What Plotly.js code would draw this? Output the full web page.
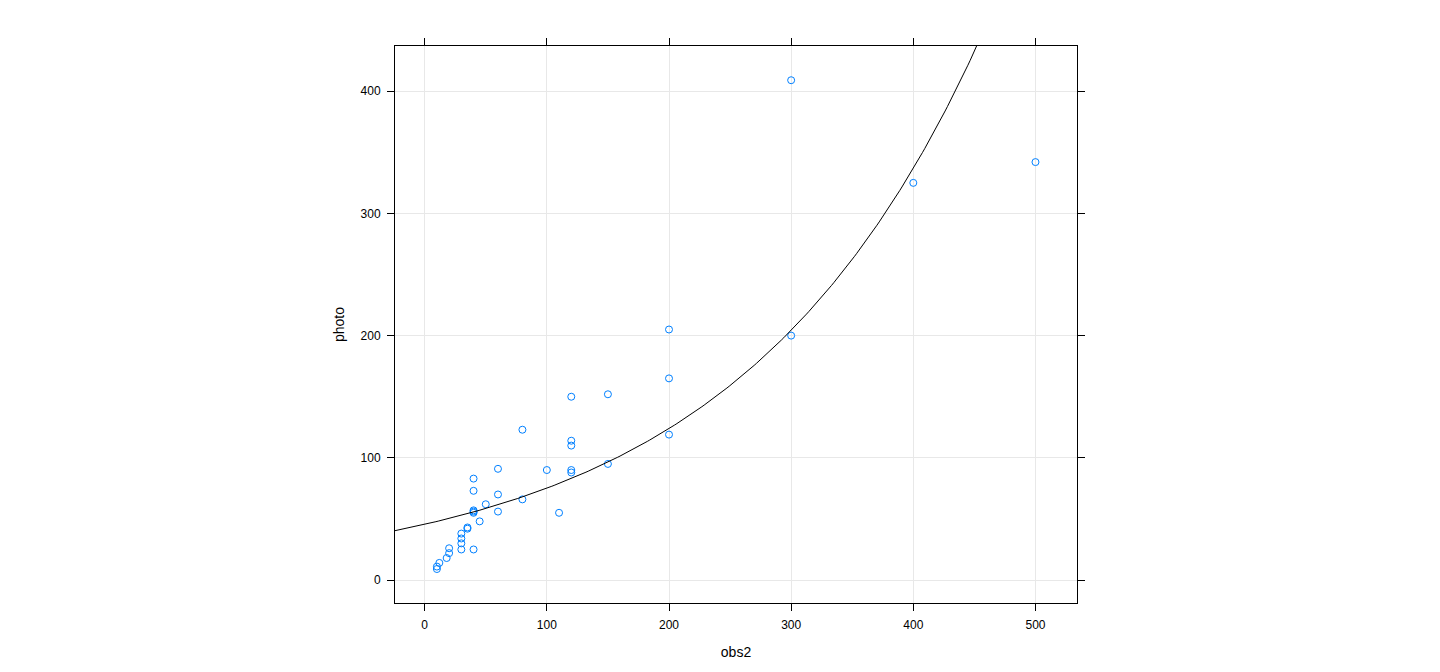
<!DOCTYPE html>
<html>
<head>
<meta charset="utf-8">
<script src="https://cdn.plot.ly/plotly-3.0.1.min.js"></script>
<style>html,body{margin:0;padding:0;background:#fff;}#chart{width:1440px;height:672px;}</style>
</head>
<body>
<div id="chart"></div>
<script>
// observed data (obs2 vs photo)
const obs2 = [120,150,80,120,120,60,100,120,120,150,40,40,60,50,40,40,40,80,60,110,45,35,35,30,30,30,30,40,20,20,18,12,10,10,200,200,200,300,300,400,500];
const photo = [150,152,123,114,110,91,90,90,88,95,83,73,70,62,57,56,55,66,56,55,48,43,42,38,34,30,25,25,26,22,18,14,11,9,205,165,119,409,200,325,342];

// fitted exponential curve coefficients: photo = fitA * exp(fitB * obs2)
const fitA = 45.6;
const fitB = 0.005;
const xRange = [-24.3, 534];
const yRange = [-18.8, 437];

const curveX = [];
const curveY = [];
for (let i = 0; i <= 300; i++) {
  const x = xRange[0] + (xRange[1] - xRange[0]) * i / 300;
  curveX.push(x);
  curveY.push(fitA * Math.exp(fitB * x));
}

const traces = [
  {
    x: obs2, y: photo, type: 'scatter', mode: 'markers',
    marker: {symbol: 'circle-open', size: 7, color: '#0080ff', line: {width: 1, color: '#0080ff'}},
    hoverinfo: 'x+y'
  },
  {
    x: curveX, y: curveY, type: 'scatter', mode: 'lines',
    line: {color: '#000000', width: 1}, hoverinfo: 'skip'
  }
];

const axisCommon = {
  showline: true, linecolor: '#000', linewidth: 1, mirror: 'ticks',
  ticks: 'outside', ticklen: 7, tickcolor: '#000', tickwidth: 1,
  ticklabelstandoff: 4,
  showgrid: true, gridcolor: '#e8e8e8', gridwidth: 1,
  zeroline: false,
  tickfont: {family: 'Liberation Sans, Arial, sans-serif', size: 12, color: '#000'}
};

const layout = {
  width: 1440, height: 672,
  margin: {l: 395, r: 363, t: 46, b: 69},
  paper_bgcolor: '#fff', plot_bgcolor: '#fff',
  showlegend: false,
  xaxis: Object.assign({}, axisCommon, {
    range: xRange, tickvals: [0, 100, 200, 300, 400, 500],
    title: {text: 'obs2', standoff: 15, font: {family: 'Liberation Sans, Arial, sans-serif', size: 14, color: '#000'}}
  }),
  yaxis: Object.assign({}, axisCommon, {
    range: yRange, tickvals: [0, 100, 200, 300, 400],
    title: {text: 'photo', standoff: 12, font: {family: 'Liberation Sans, Arial, sans-serif', size: 14, color: '#000'}}
  })
};

Plotly.newPlot('chart', traces, layout, {displayModeBar: false, staticPlot: true});
</script>
</body>
</html>
